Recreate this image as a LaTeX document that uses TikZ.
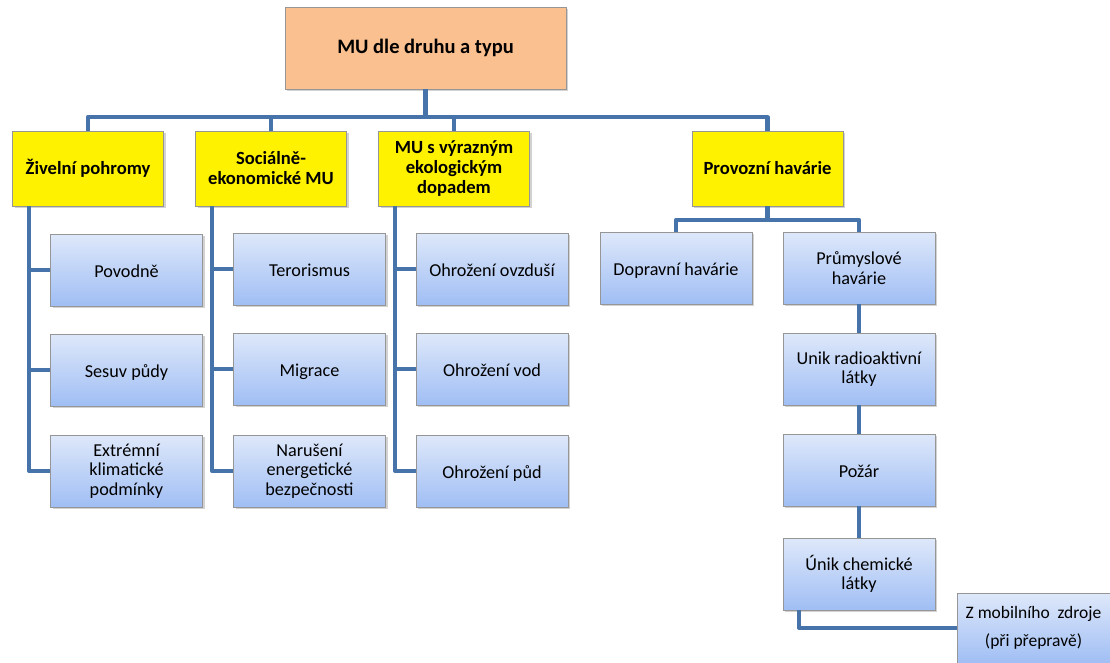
\documentclass[tikz,border=0pt]{standalone}
\usepackage{fontspec}
\setmainfont{Carlito}
\usetikzlibrary{shadows}
\definecolor{conncol}{RGB}{70,116,170}
\definecolor{topfill}{RGB}{250,192,144}
\definecolor{boxline}{RGB}{150,150,150}
\definecolor{bluetop}{RGB}{222,232,250}
\definecolor{bluebot}{RGB}{160,190,244}
\tikzset{
  conn/.style={draw=conncol, line width=4.2pt, line join=round},
  basebox/.style={draw=boxline, line width=0.8pt, inner sep=0pt, align=center,
    drop shadow={shadow xshift=2pt, shadow yshift=-2pt, opacity=0.35, fill=gray}},
  topbox/.style={basebox, fill=topfill, minimum width=281pt, minimum height=82pt,
    font=\fontsize{20.5}{24}\selectfont\bfseries},
  catbox/.style={basebox, fill=yellow, minimum width=151pt, minimum height=75pt,
    font=\fontsize{18.6}{20}\selectfont\bfseries},
  itembox/.style={basebox, top color=bluetop, bottom color=bluebot, minimum width=152pt, minimum height=72pt,
    font=\fontsize{18.2}{19.5}\selectfont},
  oneline/.style={align=none, text height=17pt, text depth=3pt},
}
\begin{document}
\begin{tikzpicture}[x=1pt,y=-1pt]
\useasboundingbox (0,0) rectangle (1110,663);
\fill[white] (0,0) rectangle (1110,663);

\node[topbox] (top) at (425.5,48) {MU dle druhu a typu};

\node[catbox] (c1) at (88,168.5) {Živelní pohromy};
\node[catbox] (c2) at (271,168.5) {Sociálně-\\ekonomické MU};
\node[catbox] (c3) at (454,168.5) {MU s výrazným\\ekologickým\\dopadem};
\node[catbox] (c4) at (767.5,168.5) {Provozní havárie};

\node[itembox, oneline] (a1) at (126.5,270) {Povodně};
\node[itembox, oneline] (a2) at (126.5,370) {Sesuv půdy};
\node[itembox] (a3) at (126.5,471) {Extrémní\\klimatické\\podmínky};

\node[itembox, oneline] (b1) at (309.5,269) {Terorismus};
\node[itembox, oneline] (b2) at (309.5,369) {Migrace};
\node[itembox] (b3) at (309.5,471) {Narušení\\energetické\\bezpečnosti};

\node[itembox, oneline] (d1) at (492,269) {Ohrožení ovzduší};
\node[itembox, oneline] (d2) at (492,369) {Ohrožení vod};
\node[itembox, oneline] (d3) at (492,471) {Ohrožení půd};

\node[itembox, oneline] (dop) at (676,268) {Dopravní havárie};
\node[itembox] (prum) at (859,268) {Průmyslové\\havárie};
\node[itembox] (unik) at (859,369) {Unik radioaktivní\\látky};
\node[itembox, oneline] (pozar) at (859,470) {Požár};
\node[itembox] (chem) at (859,574) {Únik chemické\\látky};
\node[itembox, minimum width=153pt, minimum height=70pt, font=\fontsize{17.5}{28}\selectfont] (zmob) at (1033.5,628) {Z mobilního\ \ zdroje\\(při přepravě)};

\coordinate (bus) at (0,117);
\coordinate (hb) at (0,220);

\draw[conn] (top.south) -- (top.south |- bus) -| (c1.north);
\draw[conn] (top.south |- bus) -| (c2.north);
\draw[conn] (top.south |- bus) -| (c3.north);
\draw[conn] (top.south |- bus) -| (c4.north);

\draw[conn] ([xshift=17pt]c1.south west) |- (a3.west);
\draw[conn] ([xshift=17pt]c1.south west |- a1.west) -- (a1.west);
\draw[conn] ([xshift=17pt]c1.south west |- a2.west) -- (a2.west);

\draw[conn] ([xshift=17pt]c2.south west) |- (b3.west);
\draw[conn] ([xshift=17pt]c2.south west |- b1.west) -- (b1.west);
\draw[conn] ([xshift=17pt]c2.south west |- b2.west) -- (b2.west);

\draw[conn] ([xshift=17pt]c3.south west) |- (d3.west);
\draw[conn] ([xshift=17pt]c3.south west |- d1.west) -- (d1.west);
\draw[conn] ([xshift=17pt]c3.south west |- d2.west) -- (d2.west);

\draw[conn] (c4.south) -- (c4.south |- hb) -| (dop.north);
\draw[conn] (c4.south |- hb) -| (prum.north);
\draw[conn] (prum.south) -- (unik.north);
\draw[conn] (unik.south) -- (pozar.north);
\draw[conn] (pozar.south) -- (chem.north);
\draw[conn] ([xshift=16.5pt]chem.south west) |- (zmob.west);
\end{tikzpicture}
\end{document}
